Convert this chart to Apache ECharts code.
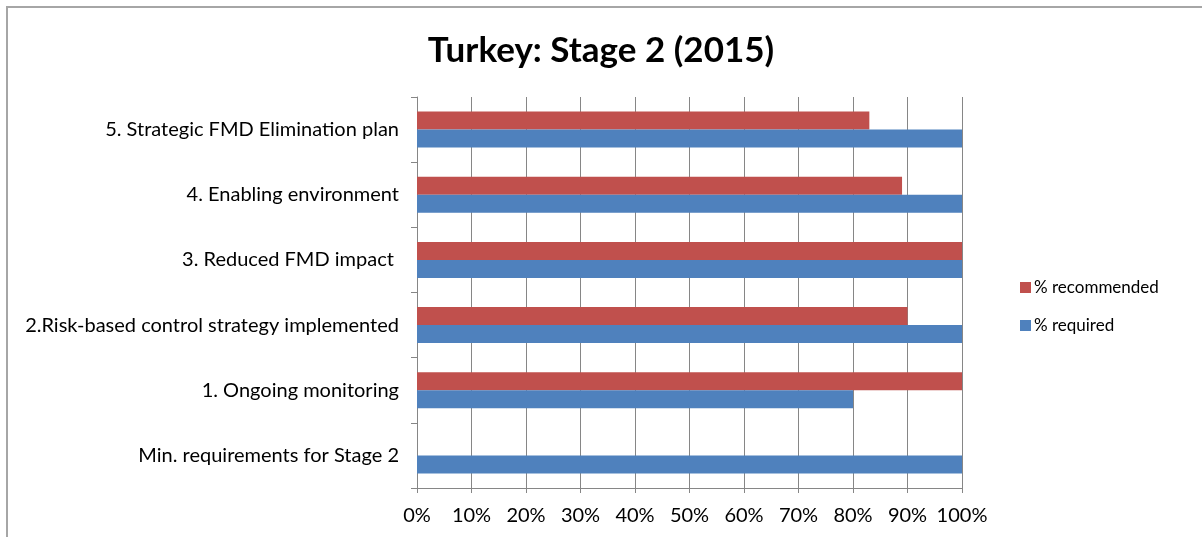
<!DOCTYPE html>
<html>
<head>
<meta charset="utf-8">
<script src="https://cdn.jsdelivr.net/npm/echarts@6/dist/echarts.min.js"></script>
<style>
html,body{margin:0;padding:0;background:#fff;}
#chart{width:1202px;height:537px;}
</style>
</head>
<body>
<div id="chart"></div>
<script>
const titleText = 'Turkey: Stage 2 (2015)';
const categories = [
  'Min. requirements for Stage 2',
  '1. Ongoing monitoring',
  '2.Risk-based control strategy implemented',
  '3. Reduced FMD impact ',
  '4. Enabling environment',
  '5. Strategic FMD Elimination plan'
];
const requiredPct = [100, 80, 100, 100, 100, 100];
const recommendedPct = [null, 100, 90, 100, 89, 83];
const seriesNames = ['% recommended', '% required'];
const xTicks = [0, 10, 20, 30, 40, 50, 60, 70, 80, 90, 100];

const FONT = 'Lato';
const chart = echarts.init(document.getElementById('chart'), null, {renderer: 'canvas'});
chart.setOption({
  backgroundColor: '#ffffff',
  animation: false,
  graphic: [{
    type: 'rect',
    shape: {x: 7, y: 7, width: 1210, height: 550},
    style: {fill: 'none', stroke: '#a6a6a6', lineWidth: 2},
    silent: true
  }],
  title: {
    text: titleText,
    left: 'center',
    top: 28,
    textStyle: {fontFamily: FONT, fontWeight: 'bold', fontSize: 35, color: '#000'}
  },
  legend: {
    orient: 'vertical',
    left: 1020,
    top: 279,
    padding: 0,
    itemWidth: 11,
    itemHeight: 11,
    itemGap: 21,
    icon: 'rect',
    data: seriesNames,
    textStyle: {fontFamily: FONT, fontSize: 17, color: '#000', padding: [0, 0, 0, -2]}
  },
  grid: {left: 417, right: 240, top: 97, bottom: 49, containLabel: false},
  xAxis: {
    type: 'value',
    min: 0, max: 100, interval: 10,
    axisLine: {show: true, lineStyle: {color: '#868686', width: 1}},
    axisTick: {show: true, length: 5, lineStyle: {color: '#868686'}},
    splitLine: {show: true, lineStyle: {color: '#868686', width: 1}},
    axisLabel: {
      formatter: v => xTicks.includes(v) ? v + '%' : '',
      fontFamily: FONT, fontSize: 20, color: '#000', margin: 18
    }
  },
  yAxis: {
    type: 'category',
    data: categories,
    axisLine: {show: true, lineStyle: {color: '#868686', width: 1}},
    axisTick: {show: true, length: 6, lineStyle: {color: '#868686'}},
    splitLine: {show: false},
    axisLabel: {fontFamily: FONT, fontSize: 20, color: '#000', margin: 18}
  },
  series: [
    {
      name: '% recommended',
      type: 'bar',
      data: recommendedPct,
      barWidth: 18,
      barGap: '0%',
      itemStyle: {color: '#c0504d'}
    },
    {
      name: '% required',
      type: 'bar',
      data: requiredPct,
      barWidth: 18,
      barGap: '0%',
      itemStyle: {color: '#4f81bd'}
    }
  ]
});
</script>
</body>
</html>
